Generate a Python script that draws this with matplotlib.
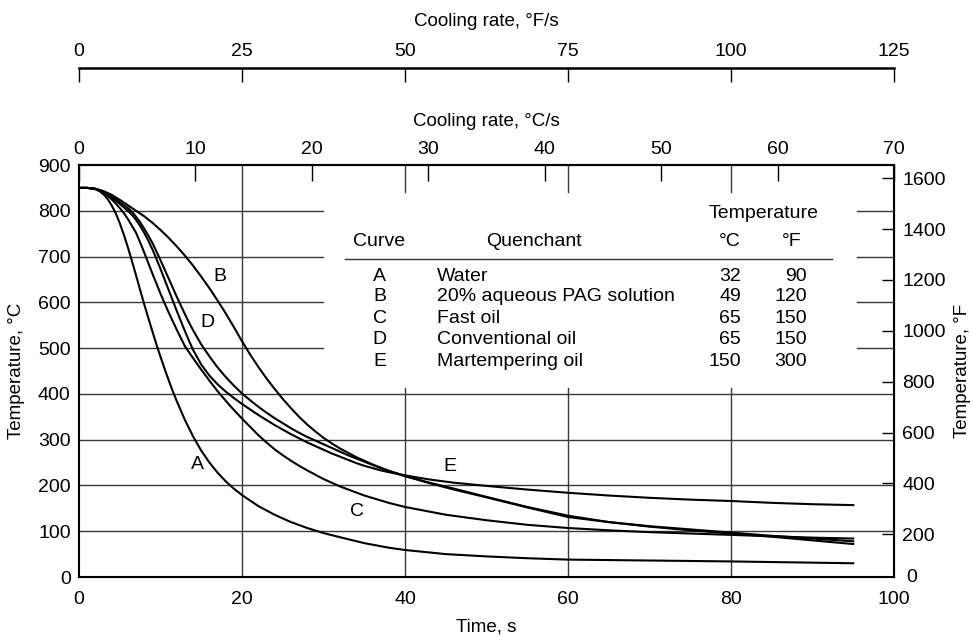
import matplotlib
matplotlib.use('Agg')
import matplotlib.pyplot as plt

plt.rcParams['font.family'] = ['Liberation Sans', 'DejaVu Sans']
plt.rcParams['font.size'] = 14

# ---------------- data ----------------
time_A = [0, 1, 1.5, 2, 2.5, 3, 3.5, 4, 4.5, 5, 5.5, 6, 6.5, 7, 7.5, 8, 8.5, 9, 9.5, 10,
          10.5, 11, 11.5, 12, 13, 14, 15, 16, 17, 18, 19, 20, 22, 24, 26, 28, 30, 32, 35,
          38, 40, 45, 50, 55, 60, 70, 80, 95]
temp_A = [850, 850, 849, 847, 843, 836, 826, 812, 795, 773, 748, 720, 690, 659, 627, 596,
          566, 537, 508, 481, 455, 430, 406, 384, 343, 307, 276, 250, 228, 209, 193, 179,
          155, 136, 120, 107, 96, 87, 74, 64, 59, 50, 45, 41, 38, 36, 34, 30]

time_B = [0, 1, 2, 3, 4, 5, 6, 7, 8, 9, 10, 11, 12, 13, 14, 15, 16, 17, 18, 19, 20, 21, 22,
          23, 24, 25, 26, 27, 28, 29, 30, 31, 32, 34, 36, 38, 40, 43, 46, 50, 55, 60, 65,
          70, 75, 80, 85, 90, 95]
temp_B = [850, 850, 848, 843, 835, 824, 812, 800, 788, 774, 758, 741, 722, 702, 680, 656,
          631, 604, 576, 546, 515, 486, 459, 434, 411, 389, 369, 350, 333, 318, 304, 292,
          281, 262, 246, 232, 220, 206, 193, 175, 153, 134, 120, 110, 102, 95, 88, 80, 72]

time_C = [0, 1, 2, 2.5, 3, 3.5, 4, 4.5, 5, 5.5, 6, 6.5, 7, 7.5, 8, 8.5, 9, 9.5, 10, 10.5,
          11, 11.5, 12, 12.5, 13, 14, 15, 16, 17, 18, 19, 20, 21, 22, 23, 24, 25, 26, 27,
          28, 30, 32, 35, 38, 40, 45, 50, 55, 60, 65, 70, 75, 80, 85, 90, 95]
temp_C = [850, 850, 848, 845, 840, 833, 825, 816, 806, 795, 782, 767, 752, 731, 709, 686,
          663, 641, 619, 598, 578, 559, 540, 522, 504, 478, 453, 429, 406, 385, 365, 346,
          328, 310, 294, 279, 266, 254, 243, 233, 214, 198, 178, 162, 153, 136, 124, 114,
          107, 102, 98, 95, 92, 89, 86, 84]

time_D = [0, 1, 2, 3, 4, 5, 5.5, 6, 6.5, 7, 7.5, 8, 8.5, 9, 9.5, 10, 10.5, 11, 11.5, 12,
          12.5, 13, 13.5, 14, 15, 16, 17, 18, 19, 20, 21, 22, 23, 24, 25, 26, 27, 28, 29,
          30, 31, 32, 33, 34, 35, 36, 37, 38, 40, 43, 46, 50, 55, 60, 65, 70, 75, 80, 85,
          90, 95]
temp_D = [850, 850, 848, 842, 831, 819, 812, 806, 798, 787, 775, 761, 746, 730, 711, 692,
          672, 652, 632, 612, 593, 574, 556, 539, 508, 482, 458, 437, 418, 401, 386, 372,
          359, 347, 336, 325, 315, 306, 298, 290, 282, 274, 266, 259, 252, 245, 238, 232,
          221, 205, 191, 174, 152, 131, 120, 111, 104, 97, 90, 84, 78]

time_E = [0, 1, 2, 3, 4, 5, 6, 6.5, 7, 7.5, 8, 8.5, 9, 9.5, 10, 10.5, 11, 11.5, 12, 12.5,
          13, 13.5, 14, 15, 16, 17, 18, 19, 20, 21, 22, 23, 24, 25, 26, 27, 28, 29, 30, 31,
          32, 33, 34, 35, 36, 37, 38, 40, 43, 46, 50, 55, 60, 65, 70, 75, 80, 85, 90, 95]
temp_E = [850, 850, 848, 841, 829, 815, 800, 791, 780, 767, 752, 735, 716, 695, 673, 650,
          627, 604, 581, 559, 537, 516, 496, 464, 440, 421, 405, 391, 378, 366, 354, 343,
          332, 322, 312, 303, 294, 286, 278, 270, 263, 256, 249, 243, 238, 233, 229, 222,
          213, 206, 199, 191, 184, 178, 173, 169, 166, 162, 159, 157]

curve_ids = ['A', 'B', 'C', 'D', 'E']
quenchants = ['Water', '20% aqueous PAG solution', 'Fast oil', 'Conventional oil',
              'Martempering oil']
bath_c = [32, 49, 65, 65, 150]
bath_f = [90, 120, 150, 150, 300]

label_t = [14.5, 17.3, 34.1, 15.8, 45.5]
label_T = [245, 657, 144, 555, 242]

time_ticks = [0, 20, 40, 60, 80, 100]
tempC_ticks = list(range(0, 901, 100))
tempF_ticks = list(range(200, 1601, 200))
rateC_ticks = list(range(0, 71, 10))
rateF_ticks = list(range(0, 126, 25))

# ---------------- figure ----------------
W, H = 973, 637
fig = plt.figure(figsize=(W / 100, H / 100), dpi=100)
ax = fig.add_axes([79 / W, 60 / H, 815 / W, 412 / H])
ax.set_xlim(0, 100)
ax.set_ylim(0, 900)

grid_kw = dict(color='#3a3a3a', lw=1.0, zorder=1)
for T in [100, 200, 300, 400]:
    ax.axhline(T, **grid_kw)
for T in [500, 600, 700, 800]:
    ax.axhline(T, xmin=0, xmax=0.30, **grid_kw)
    ax.axhline(T, xmin=0.955, xmax=1, **grid_kw)
ax.axvline(20, **grid_kw)
for t in [40, 60, 80]:
    ax.axvline(t, ymin=0, ymax=413 / 900, **grid_kw)
    ax.axvline(t, ymin=840 / 900, ymax=1, **grid_kw)

for tt, TT in [(time_A, temp_A), (time_B, temp_B), (time_C, temp_C),
               (time_D, temp_D), (time_E, temp_E)]:
    ax.plot(tt, TT, color='black', lw=1.5, zorder=3, solid_joinstyle='round')

for lab, t, T in zip(curve_ids, label_t, label_T):
    ax.text(t, T, lab, ha='center', va='center', fontsize=14, zorder=4)

# table
ax.text(84.0, 795, 'Temperature', ha='center', va='center')
ax.text(36.8, 732, 'Curve', ha='center', va='center')
ax.text(55.8, 732, 'Quenchant', ha='center', va='center')
ax.text(79.9, 732, '°C', ha='center', va='center')
ax.text(87.4, 732, '°F', ha='center', va='center')
ax.plot([32.6, 92.4], [695, 695], color='#333333', lw=1.0)
row_T = [657, 612, 564, 518, 470]
for cid, q, c, f, T in zip(curve_ids, quenchants, bath_c, bath_f, row_T):
    ax.text(36.9, T, cid, ha='center', va='center')
    ax.text(43.9, T, q, ha='left', va='center')
    ax.text(81.2, T, str(c), ha='right', va='center')
    ax.text(89.3, T, str(f), ha='right', va='center')

for s in ax.spines.values():
    s.set_linewidth(1.5)
ax.set_xticks(time_ticks)
ax.set_yticks(tempC_ticks)
ax.tick_params(axis='both', length=0, labelsize=14)
ax.tick_params(axis='x', pad=10)
ax.tick_params(axis='y', pad=6)
ax.set_xlabel('Time, s', labelpad=8, fontsize=13.5)
ax.set_ylabel('Temperature, °C', labelpad=9, fontsize=13.5)

secC = ax.secondary_xaxis('top', functions=(lambda t: t * 0.7, lambda r: r / 0.7))
secC.set_xticks(rateC_ticks)
secC.tick_params(direction='in', length=11.5, width=1.0, pad=5, labelsize=14)
secC.spines['top'].set_linewidth(1.5)
secC.set_xlabel('Cooling rate, °C/s', labelpad=11, fontsize=13.5)

secF = ax.secondary_xaxis((577 - 68) / 412, functions=(lambda t: t * 1.25, lambda r: r / 1.25))
secF.set_xticks(rateF_ticks)
secF.tick_params(direction='in', length=10, width=1.0, pad=6, labelsize=14)
secF.spines['top'].set_linewidth(1.8)
secF.set_xlabel('Cooling rate, °F/s', labelpad=12, fontsize=13.5)

secR = ax.secondary_yaxis('right', functions=(lambda c: c * 9 / 5 + 32,
                                             lambda f: (f - 32) * 5 / 9))
secR.set_yticks(tempF_ticks)
secR.tick_params(direction='in', length=9, width=1.0, pad=6, labelsize=14)
secR.set_ylabel('Temperature, °F', labelpad=6, fontsize=13.5)
ax.annotate('0', xy=(1, 0), xycoords='axes fraction', xytext=(9, 0),
            textcoords='offset points', ha='left', va='center', fontsize=14)

fig.savefig('out.png', dpi=100)
